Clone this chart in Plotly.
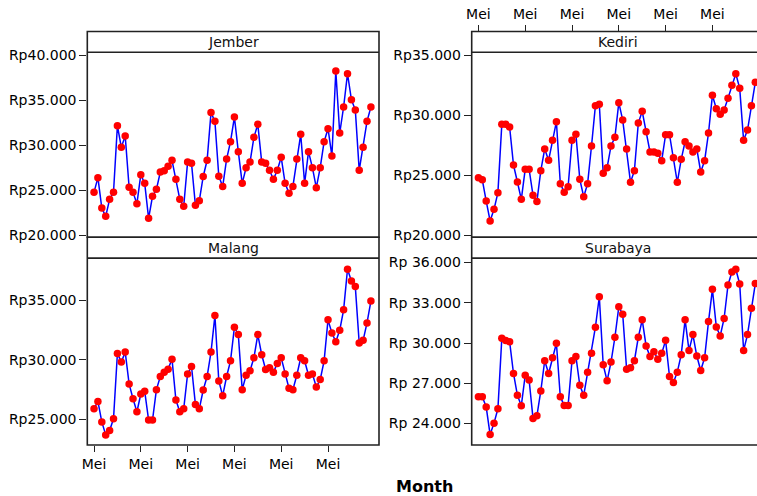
import plotly.graph_objects as go

# Monthly prices (Rupiah), 72 months starting in May
months = list(range(72))
tick_months = [0, 12, 24, 36, 48, 60]
tick_text = ["Mei"] * 6

jember = [24740, 26370, 23000, 22070, 23960, 24740, 32150, 29740, 31000, 25300,
          24740, 23480, 26700, 25740, 21850, 24300, 25070, 27000, 27150, 27630,
          28300, 26200, 23960, 23190, 28100, 27960, 23300, 23810, 26500, 28300,
          33600, 32630, 26520, 25400, 28440, 30370, 33100, 29260, 25740, 27480,
          28100, 30850, 32300, 28100, 27960, 27190, 26200, 27190, 28630, 25740,
          24630, 25400, 28440, 31190, 25740, 29260, 27480, 25260, 27480, 30370,
          31810, 28780, 38220, 31330, 34220, 37930, 35040, 33890, 27190, 29740,
          32630, 34220]

kediri = [24780, 24600, 22830, 21170, 22140, 23530, 29220, 29220, 29000, 25830,
          24420, 22970, 25470, 25470, 23310, 22800, 25360, 27170, 26220, 27890,
          29440, 24280, 23560, 24030, 27890, 28390, 24640, 23190, 24280, 27420,
          30780, 30890, 25140, 25610, 27420, 28140, 31030, 29580, 27170, 24390,
          25360, 29330, 30310, 28610, 26920, 26920, 26810, 26190, 28360, 28360,
          26440, 24390, 26310, 27780, 27420, 26920, 27170, 25250, 26190, 28500,
          31640, 30530, 30060, 30420, 31390, 32470, 33440, 32220, 27890, 28750,
          30780, 32720]

malang = [25870, 26490, 24770, 23680, 24040, 25030, 30520, 29790, 30630, 27960,
          26720, 25620, 27110, 27340, 24920, 24920, 27480, 28580, 28940, 29200,
          30040, 26610, 25620, 25870, 28800, 29420, 26240, 25870, 27450, 28580,
          30630, 33700, 28210, 26970, 28580, 29900, 32720, 32100, 27480, 28690,
          29060, 30150, 32100, 30410, 29170, 29310, 28940, 29680, 30150, 28800,
          27590, 27480, 28690, 30150, 29900, 28690, 28800, 27700, 28320, 29900,
          33340, 32240, 31510, 32460, 34180, 37590, 36610, 36130, 31390, 31620,
          33080, 34920]

surabaya = [26000, 26000, 25230, 23180, 24030, 25100, 30350, 30180, 30100, 27730,
            26100, 25330, 27600, 27250, 24380, 24580, 26430, 28680, 27730, 28900,
            29980, 26000, 25350, 25350, 28680, 29000, 26850, 26100, 27830, 29230,
            31180, 33450, 28380, 27180, 28580, 30430, 32700, 32150, 28050, 28150,
            28680, 30430, 31730, 29780, 29000, 29350, 28800, 29230, 30200, 27500,
            27050, 27830, 29130, 31730, 29450, 30630, 29030, 27950, 28900, 31600,
            34000, 31200, 30530, 31830, 34330, 35300, 35500, 34400, 29450, 30630,
            32600, 34430]

cities = ["Jember", "Kediri", "Malang", "Surabaya"]
series = [jember, kediri, malang, surabaya]
y_ticks = [
    [20000, 25000, 30000, 35000, 40000],
    [20000, 25000, 30000, 35000],
    [25000, 30000, 35000],
    [24000, 27000, 30000, 33000, 36000],
]
y_limits = [(19744, 40300), (19808, 35225), (22830, 38525), (22400, 36330)]

W, H = 757, 496
FONT = "DejaVu Sans"
LINE = "#222222"


def fx(p):
    return p / W


def fy(p):
    return 1 - p / H


def rupiah(v, spaced=False):
    s = f"{v:,}".replace(",", ".")
    return ("Rp " if spaced else "Rp") + s


# panel geometry in pixels
left_x = (87.3, 379.0)
right_x0 = 471.7
panel_w = left_x[1] - left_x[0]
strip_h = 20.8
rows = [(31.5, 237.3), (237.3, 445.0)]  # (strip top, data bottom) per row
px_per_month = 3.90
x_start = -1.72
x_end_full = x_start + panel_w / px_per_month
x_end_right = x_start + (W - right_x0) / px_per_month

fig = go.Figure()
layout = dict(
    width=W, height=H, autosize=False, margin=dict(l=0, r=0, t=0, b=0, pad=0),
    paper_bgcolor="white", plot_bgcolor="white", showlegend=False,
    font=dict(family=FONT, size=14, color="black"),
)

shapes = []
annotations = []
for i, (city, vals) in enumerate(zip(cities, series)):
    r, c = divmod(i, 2)
    top, bottom = rows[r]
    data_top = top + strip_h
    lo, hi = y_limits[i]
    # extend the value range so the strip region sits above the data
    hi_ext = hi + (hi - lo) * strip_h / (bottom - data_top)
    n = i + 1
    xa = "x" if n == 1 else f"x{n}"
    ya = "y" if n == 1 else f"y{n}"
    fig.add_trace(go.Scatter(
        x=months, y=vals, mode="lines+markers", xaxis=xa, yaxis=ya,
        line=dict(color="#0000ff", width=1.5),
        marker=dict(color="#ff0000", size=7.5),
        hoverinfo="skip",
    ))
    if c == 0:
        xdom = [fx(left_x[0]), fx(left_x[1])]
        xrange = [x_start, x_end_full]
        x0p, x1p = left_x
    else:
        xdom = [fx(right_x0), 1.0]
        xrange = [x_start, x_end_right]
        x0p, x1p = right_x0, right_x0 + panel_w
    xaxis = dict(domain=xdom, range=xrange, anchor=ya, showgrid=False,
                 zeroline=False, showline=False, tickvals=tick_months,
                 ticktext=tick_text, ticks="", showticklabels=False,
                 automargin=False)
    if city == "Malang":
        xaxis.update(ticks="outside", ticklen=6, tickwidth=1.3,
                     tickcolor=LINE, showticklabels=True)
    if city == "Kediri":
        xaxis.update(ticks="outside", ticklen=6, tickwidth=1.3,
                     tickcolor=LINE, showticklabels=True, side="top")
    yaxis = dict(domain=[fy(bottom), fy(top)], range=[lo, hi_ext], anchor=xa,
                 showgrid=False, zeroline=False, showline=False,
                 tickvals=y_ticks[i],
                 ticktext=[rupiah(v, city == "Surabaya") for v in y_ticks[i]],
                 ticks="outside", ticklen=7, tickwidth=1.3, tickcolor=LINE,
                 automargin=False)
    layout["xaxis" if n == 1 else f"xaxis{n}"] = xaxis
    layout["yaxis" if n == 1 else f"yaxis{n}"] = yaxis

    # panel frame and strip
    x1_draw = x1p if c == 0 else x1p + 5
    shapes.append(dict(type="rect", xref="paper", yref="paper",
                       x0=fx(x0p), x1=fx(x1_draw), y0=fy(bottom), y1=fy(top),
                       line=dict(color=LINE, width=1.6), fillcolor="rgba(0,0,0,0)",
                       layer="above"))
    shapes.append(dict(type="line", xref="paper", yref="paper",
                       x0=fx(x0p), x1=fx(x1_draw), y0=fy(data_top), y1=fy(data_top),
                       line=dict(color=LINE, width=1.6), layer="above"))
    annotations.append(dict(text=city, xref="paper", yref="paper",
                            x=fx((x0p + x1p) / 2), y=fy(top + strip_h / 2),
                            xanchor="center", yanchor="middle", showarrow=False,
                            font=dict(family=FONT, size=14, color="#111111")))

annotations.append(dict(text="<b>Month</b>", xref="paper", yref="paper",
                        x=fx(424), y=fy(486), xanchor="center", yanchor="middle",
                        showarrow=False, font=dict(family=FONT, size=16, color="black")))

layout["shapes"] = shapes
layout["annotations"] = annotations
fig.update_layout(**layout)
fig.write_html("out.html")
